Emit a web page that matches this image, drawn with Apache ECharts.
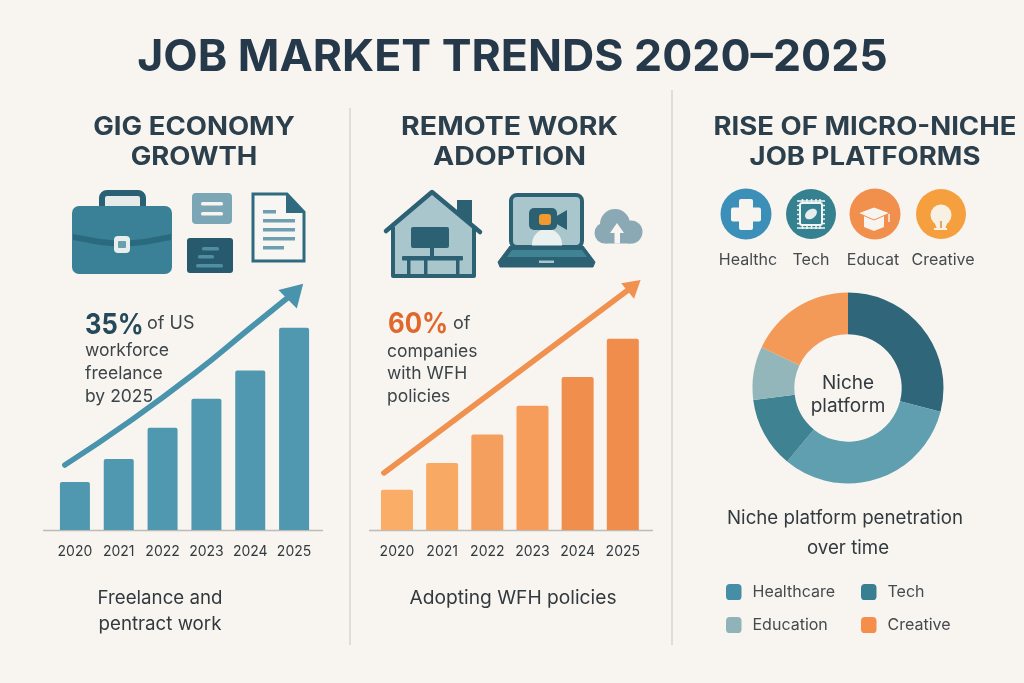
<!DOCTYPE html>
<html><head><meta charset="utf-8">
<style>html,body{margin:0;padding:0;background:#f8f5f0}#c{width:1024px;height:683px}</style>
<script src="https://cdn.jsdelivr.net/npm/echarts@6/dist/echarts.min.js"></script>
</head><body><div id="c"></div>
<script>
const years = ['2020','2021','2022','2023','2024','2025'];
const gigValues = [8.3, 12.3, 17.7, 22.7, 27.6, 35];
const remoteValues = [12.6, 21, 30, 39, 48, 60];
const remoteColors = ['#f9ad66','#f8a963','#f59f5e','#f69d5c','#f08e4e','#f08c4c'];
const gigTrendX = [-0.23, 1.26, 2.74, 4.0, 5.03];
const gigTrendY = [11.25, 18.87, 27.17, 34.96, 41.28];
const remoteTrendX = [-0.29, 5.25];
const remoteTrendY = [17.9, 76.7];
const pieNames = ['Other','Healthcare','Tech','Education','Creative'];
const pieValues = [29, 32, 12, 9, 18];
const pieColors = ['#2f6679','#5f9fb0','#3f8291','#93b6bb','#f49a58'];
const legendColors = {Healthcare:'#468ea5',Tech:'#3a7e91',Education:'#8fb3b9',Creative:'#f48e4a'};

const FONT = 'Inter';
const DARK='#2c6174', TEAL='#3a8096', PALE='#a9c6cc', INK='#333a3f';
const g = [];
const rect=(x,y,w,h,fill,r,extra)=>g.push({type:'rect',shape:{x,y,width:w,height:h,r:r||0},style:Object.assign({fill},extra||{})});
const line=(x1,y1,x2,y2,stroke,lw,cap)=>g.push({type:'line',shape:{x1,y1,x2,y2},style:{stroke,lineWidth:lw,lineCap:cap||'butt'}});
const poly=(points,fill,extra)=>g.push({type:'polygon',shape:{points},style:Object.assign({fill},extra||{})});
const circle=(cx,cy,r,fill,extra)=>g.push({type:'circle',shape:{cx,cy,r},style:Object.assign({fill},extra||{})});
const txt=(text,x,y,size,opts)=>{opts=opts||{};g.push({type:'text',x,y,scaleX:opts.sx||1,style:{text,fill:opts.fill||INK,textAlign:opts.align||'left',textVerticalAlign:'middle',font:(opts.weight||400)+' '+size+'px '+FONT}})};

// dividers and axis baselines
line(350,108,350,645,'#d6d4cf',1.5);
line(672,90,672,645,'#d6d4cf',1.5);
line(43,530.5,323,530.5,'#bcbcb6',1.5);
line(369,530.5,653,530.5,'#bcbcb6',1.5);

// headings
const HEAD='#2b3f4c';
txt('JOB MARKET TRENDS 2020–2025',512.5,58,44,{weight:700,align:'center',fill:'#26394a',sx:1.015});
txt('GIG ECONOMY',194,127,25,{weight:700,align:'center',fill:HEAD,sx:1.1});
txt('GROWTH',194,157,25,{weight:700,align:'center',fill:HEAD,sx:1.1});
txt('REMOTE WORK',509.5,127,25,{weight:700,align:'center',fill:HEAD,sx:1.14});
txt('ADOPTION',509.5,157,25,{weight:700,align:'center',fill:HEAD,sx:1.14});
txt('RISE OF MICRO-NICHE',865,127,25,{weight:700,align:'center',fill:HEAD,sx:1.1});
txt('JOB PLATFORMS',865,157,25,{weight:700,align:'center',fill:HEAD,sx:1.1});

// briefcase
g.push({type:'rect',shape:{x:102,y:193,width:41,height:20,r:5},style:{fill:'#e6ebe9',stroke:'#2a6073',lineWidth:6}});
rect(72,206,100,68,TEAL,7);
g.push({type:'polygon',shape:{points:[[73,234],[100,239],[122,241],[144,239],[171,234],[171,240],[144,245],[122,247],[100,245],[73,240]]},style:{fill:'#2a6a7f'}});
rect(114,236,16,17,'#e8eeec',4);rect(118,241,8,7,'#6a9fae',1);
// cards
rect(192,193,40,31,'#7aa6b6',4);rect(201,202,22,3.5,'#f8f5f0',1.5);rect(201,212,22,3.5,'#f8f5f0',1.5);
rect(187,238,46,35,'#265a6c',3);rect(202,247,17,3.5,'#4f8ea3',1.5);rect(198,255,16,3.5,'#4f8ea3',1.5);rect(196,264,27,3.5,'#4f8ea3',1.5);
// document
poly([[253,194],[287,194],[304,212],[304,261],[253,261]],'#f8f6f2',{stroke:'#2e6b80',lineWidth:3});
poly([[286,194],[305,213],[286,213]],'#2e6b80');
rect(263,210,13,3.5,'#6e9fb0');rect(263,219,32,3.5,'#6e9fb0');rect(263,228,32,3.5,'#6e9fb0');rect(263,237,32,3.5,'#6e9fb0');rect(263,246,21,3.5,'#6e9fb0');

// house
rect(457,200,15,24,DARK);
poly([[432,193],[393,226],[393,276],[474,276],[474,226]],PALE);
g.push({type:'polyline',shape:{points:[[386,231],[432,192],[480,232]]},style:{stroke:DARK,lineWidth:4.5,lineCap:'round',lineJoin:'round',fill:'none'}});
g.push({type:'polyline',shape:{points:[[393,227],[393,276],[474,276],[474,227]]},style:{stroke:DARK,lineWidth:4,lineJoin:'round',fill:'none'}});
rect(411,227,38,21,DARK,2);rect(430,248,4,9,DARK);rect(402,256,61,4.5,DARK,1);
rect(407,260,3.5,16,DARK);rect(424,260,3.5,16,DARK);rect(456,260,3.5,16,DARK);

// laptop
rect(511,195,71,52,PALE,6,{stroke:DARK,lineWidth:4});
rect(532,229,30,17,'#e8f0f0',[15,15,0,0]);
g.push({type:'polygon',shape:{points:[[510,246],[583,246],[595,262],[593,267],[500,267],[498,262]]},style:{fill:DARK,stroke:DARK,lineWidth:1,lineJoin:'round'}});
poly([[512,250],[582,250],[587,257],[507,257]],'#3f8395');
rect(539,260.5,15,2.5,PALE);
rect(529,208,28,22,DARK,5);poly([[555,217],[567,210],[567,230],[555,223]],DARK);
rect(539,214,12,11,'#f0992f',3);

// cloud
circle(615,224,15,'#8aa9b4');circle(605,233,10.5,'#8aa9b4');circle(631,232,11.5,'#8aa9b4');rect(605,232,26,11.5,'#8aa9b4');
poly([[617,223],[610,233],[624,233]],'#f8f5f0');rect(614.5,232,5.5,11.5,'#f8f5f0');

// category icons
circle(746,214,25.5,'#3b8fb8');rect(739,199,14,31,'#f8f5f0',2);rect(731,207.5,30,14,'#f8f5f0',2);
circle(811,214,25,'#36818f');
[802.5,807,811.5,816,820].forEach(v=>{line(v,199,v,229,'#f2f5f3',1.5)});
[201,205.5,210,214.5,219,223.5,228].forEach(v=>{line(797,v,825,v,'#f2f5f3',1.5)});
rect(800,203,22,22,'#36818f',2,{stroke:'#f2f5f3',lineWidth:2});
g.push({type:'ellipse',shape:{cx:811,cy:214,rx:6.5,ry:4.5},rotation:0.6,originX:811,originY:214,style:{fill:'#e6eeed'}});
circle(875,214,25.5,'#f18f4d');
poly([[864,216],[884,216],[884,227],[874,231],[864,227]],'#f8f5f0');
poly([[858,213],[874,207],[890,213],[874,220]],'#f8f5f0',{stroke:'#f18f4d',lineWidth:1});
line(889,214,889,222,'#f8f5f0',1.5);
circle(941,214,25,'#f59f3f');
circle(941,215,10.5,'#f8f0e2');poly([[934,221],[948,221],[945,229],[937,229]],'#f8f0e2');
line(941,221,941,229,'#e08c34',1.5);rect(934,228,13,2,'#f8f0e2');

// category labels
txt('Healthc',748,260,16,{align:'center',fill:'#454a4e'});
txt('Tech',811,260,16,{align:'center',fill:'#454a4e'});
txt('Educat',873,260,16,{align:'center',fill:'#454a4e'});
txt('Creative',943,260,16,{align:'center',fill:'#454a4e'});

// callouts
txt('35%',85,325,29,{weight:700,fill:'#244a5a',sx:0.88});
txt('of US',147,324,18,{fill:'#3c4448'});
txt('workforce',85,351,17.5,{fill:'#3c4448'});
txt('freelance',85,374,17.5,{fill:'#3c4448'});
txt('by 2025',85,397,17.5,{fill:'#3c4448'});
txt('60%',388,325,28,{weight:700,fill:'#e0682c',sx:0.92});
txt('of',453,324,18,{fill:'#3c4448'});
txt('companies',387,352,17.5,{fill:'#3c4448'});
txt('with WFH',387,374,17.5,{fill:'#3c4448'});
txt('policies',387,397,17.5,{fill:'#3c4448'});

// captions
txt('Freelance and',160,598,18.7,{align:'center'});
txt('pentract work',160,624,18.7,{align:'center'});
txt('Adopting WFH policies',513,598,19.2,{align:'center'});
txt('Niche platform penetration',845,518,18.7,{align:'center'});
txt('over time',848,548,18.7,{align:'center'});
txt('Niche',848,383,19,{align:'center'});
txt('platform',848,406,19,{align:'center'});

const catAxis=(gridIndex)=>({type:'category',gridIndex,data:years,axisLine:{show:false},axisTick:{show:false},axisLabel:{color:'#333a3f',fontFamily:FONT,fontSize:14,margin:15,interval:0}});
const idxAxis=(gridIndex)=>({type:'value',gridIndex,min:-0.5,max:5.5,show:false});
const valAxis=(gridIndex,max)=>({type:'value',gridIndex,min:0,max,show:false});
const trend=(xs,ys,color,axis,size,rot,smooth)=>({type:'line',xAxisIndex:axis,yAxisIndex:axis===1?0:1,smooth,symbol:'none',clip:false,z:4,
  lineStyle:{color,width:5.5,cap:'round'},itemStyle:{color},
  data:xs.map((x,i)=>i===xs.length-1?{value:[x,ys[i]],symbol:'triangle',symbolSize:size,symbolRotate:rot}:{value:[x,ys[i]]})});
const leg=(name,left,top)=>({show:true,left,top,orient:'horizontal',selectedMode:false,icon:'roundRect',itemWidth:15.5,itemHeight:16,
  data:[{name,itemStyle:{color:legendColors[name]}}],textStyle:{color:'#454a4e',fontFamily:FONT,fontSize:16,padding:[0,0,0,6]}});

const option={
  backgroundColor:'#f8f5f0',animation:false,
  grid:[{left:53,top:270,width:263,height:260},{left:374.4,top:275,width:271,height:255}],
  xAxis:[catAxis(0),idxAxis(0),catAxis(1),idxAxis(1)],
  yAxis:[valAxis(0,45),valAxis(1,80)],
  legend:[leg('Healthcare',721,579),leg('Tech',856,579),leg('Education',721,612),leg('Creative',856,612)],
  series:[
    {type:'bar',xAxisIndex:0,yAxisIndex:0,barWidth:30,data:gigValues,itemStyle:{color:'#4f98b0',borderRadius:[2,2,0,0]}},
    {type:'bar',xAxisIndex:2,yAxisIndex:1,barWidth:32,data:remoteValues.map((v,i)=>({value:v,itemStyle:{color:remoteColors[i]}})),itemStyle:{borderRadius:[2,2,0,0]}},
    trend(gigTrendX,gigTrendY,'#4a93ac',1,[26,22],-45,0.5),
    trend(remoteTrendX,remoteTrendY,'#f0914f',3,[20,17],-50,false),
    {type:'pie',center:[848,388],radius:[53.7,95.5],startAngle:90,clockwise:true,label:{show:false},labelLine:{show:false},silent:true,
      data:pieNames.map((n,i)=>({name:n,value:pieValues[i],itemStyle:{color:pieColors[i]}}))}
  ],
  graphic:{elements:g}
};
const chart=echarts.init(document.getElementById('c'),null,{renderer:'canvas'});
chart.setOption(option);
</script></body></html>
